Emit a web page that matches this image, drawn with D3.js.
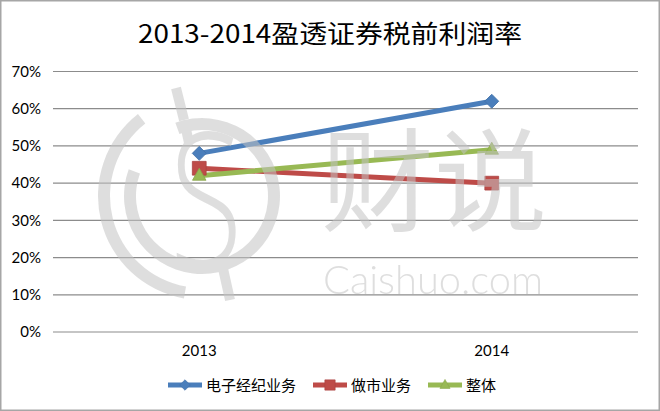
<!DOCTYPE html>
<html><head><meta charset="utf-8">
<script src="https://cdn.jsdelivr.net/npm/d3@7"></script>
<style>body{margin:0;background:#fff}svg{display:block}</style>
</head><body>
<svg id="c" width="660" height="411"></svg>
<script>
const title = "2013-2014盈透证券税前利润率";
const years = ["2013", "2014"];
const seriesNames = ["电子经纪业务", "做市业务", "整体"];
const electronic = [0.48, 0.62];
const marketMaking = [0.44, 0.40];
const overall = [0.42, 0.49];
const yTicks = [0, 0.1, 0.2, 0.3, 0.4, 0.5, 0.6, 0.7];

const colors = ["#4a7ebb", "#be4b48", "#98b954"];
const values = [electronic, marketMaking, overall];

const svg = d3.select("#c");
const W = 660, H = 411;
const plotL = 53, plotR = 638, plotT = 71.5, plotB = 332;

function marker(sel, s, scale) {
  if (s === 0) {
    sel.attr("d", d3.symbol(d3.symbolSquare, 98 * scale * scale)()).attr("data-rot", 45);
  } else if (s === 1) {
    sel.attr("d", d3.symbol(d3.symbolSquare, 190 * scale * scale)());
  } else {
    const h = 12 * scale, w = 13.5 * scale;
    sel.attr("d", `M0,${-h * 0.62}L${w / 2},${h * 0.38}L${-w / 2},${h * 0.38}Z`);
  }
}

svg.append("rect").attr("x", 0.75).attr("y", 0.75).attr("width", W - 1.5).attr("height", H - 1.5)
  .attr("fill", "#fff").attr("stroke", "#a6a6a6").attr("stroke-width", 1.5);

svg.append("text").attr("x", 330).attr("y", 43).attr("text-anchor", "middle")
  .attr("font-family", "'Noto Sans CJK SC', sans-serif").attr("font-size", 25)
  .attr("textLength", 384).attr("lengthAdjust", "spacingAndGlyphs")
  .attr("fill", "#000").text(title);

const x = d3.scaleBand().domain(years).range([plotL, plotR]);
const y = d3.scaleLinear().domain([0, 0.7]).range([plotB, plotT]);

// gridlines
svg.append("g").selectAll("line").data(yTicks).join("line")
  .attr("x1", plotL).attr("x2", plotR)
  .attr("y1", d => y(d)).attr("y2", d => y(d))
  .attr("stroke", "#8c8c8c").attr("stroke-width", 1.2);

// y axis labels
const yAxis = svg.append("g").attr("transform", `translate(${plotL},0)`)
  .call(d3.axisLeft(y).tickValues(yTicks).tickFormat(d3.format(".0%")).tickSize(0).tickPadding(12));
yAxis.select(".domain").remove();
yAxis.selectAll("text").attr("font-family", "Lato, 'Open Sans', sans-serif").attr("font-size", 15).attr("fill", "#000");

// x axis labels
const xAxis = svg.append("g").attr("transform", `translate(0,${plotB})`)
  .call(d3.axisBottom(x).tickSize(0).tickPadding(13));
xAxis.select(".domain").remove();
xAxis.selectAll("text").attr("font-family", "Lato, 'Open Sans', sans-serif").attr("font-size", 15).attr("fill", "#000");

// lines
const cx = i => x(years[i]) + x.bandwidth() / 2;
const line = d3.line().x((d, i) => cx(i)).y(d => y(d));
values.forEach((vals, s) => {
  svg.append("path").datum(vals).attr("d", line).attr("fill", "none")
    .attr("stroke", colors[s]).attr("stroke-width", 5).attr("stroke-linecap", "round");
});
values.forEach((vals, s) => {
  svg.append("g").selectAll("path").data(vals).join("path")
    .call(marker, s, 1)
    .attr("transform", (d, i) => `translate(${cx(i)},${y(d)})` + (s === 0 ? " rotate(45)" : ""))
    .attr("fill", colors[s]).attr("stroke", d3.color(colors[s]).darker(0.3)).attr("stroke-width", 0.8);
});

// watermark
const wmC = "#c4c4c4";
const wm = svg.append("g").attr("opacity", 0.55).attr("fill", "none").attr("stroke", wmC).attr("stroke-linecap", "butt");
const arc = d3.arc();
const deg = Math.PI / 180;
wm.append("path").attr("transform", "translate(202,196)")
  .attr("d", arc({innerRadius: 92, outerRadius: 104, startAngle: 190 * deg, endAngle: 322 * deg}))
  .attr("fill", wmC).attr("stroke", "none");
wm.append("path").attr("transform", "translate(202,196)")
  .attr("d", arc({innerRadius: 66, outerRadius: 78, startAngle: -20 * deg, endAngle: 290 * deg}))
  .attr("fill", wmC).attr("stroke", "none");
wm.append("line").attr("x1", 176).attr("y1", 88).attr("x2", 184).attr("y2", 120).attr("stroke-width", 10);
wm.append("line").attr("x1", 186).attr("y1", 129).attr("x2", 189).attr("y2", 143).attr("stroke-width", 10);
wm.append("line").attr("x1", 222).attr("y1", 264).attr("x2", 230).attr("y2", 300).attr("stroke-width", 10);
wm.append("text").attr("transform", "translate(206,266) scale(0.72,1)").attr("text-anchor", "middle")
  .attr("font-family", "'Open Sans', sans-serif").attr("font-weight", 300).attr("font-size", 186)
  .attr("fill", wmC).attr("stroke", "none").text("S");
wm.append("text").attr("x", 434).attr("y", 223).attr("text-anchor", "middle")
  .attr("font-family", "'Noto Sans CJK SC', sans-serif").attr("font-weight", 400).attr("font-size", 112)
  .attr("textLength", 226).attr("lengthAdjust", "spacingAndGlyphs")
  .attr("fill", wmC).attr("stroke", "none").text("财说");
wm.append("text").attr("x", 323).attr("y", 294)
  .attr("font-family", "Lato, 'Open Sans', sans-serif").attr("font-weight", 300).attr("font-size", 39)
  .attr("textLength", 220).attr("lengthAdjust", "spacingAndGlyphs")
  .attr("fill", wmC).attr("stroke", "none").text("Caishuo.com");

// legend
const legendX = [168, 313, 428];
const lg = svg.append("g");
seriesNames.forEach((name, s) => {
  const g = lg.append("g").attr("transform", `translate(${legendX[s]},385)`);
  g.append("line").attr("x1", 0).attr("x2", 34).attr("stroke", colors[s]).attr("stroke-width", 5);
  g.append("path").call(marker, s, 0.75)
    .attr("transform", "translate(17,0)" + (s === 0 ? " rotate(45)" : ""))
    .attr("fill", colors[s]).attr("stroke", d3.color(colors[s]).darker(0.3)).attr("stroke-width", 0.6);
  g.append("text").attr("x", 38).attr("y", 5.5).attr("font-family", "'Noto Sans CJK SC', sans-serif")
    .attr("font-size", 15).attr("fill", "#000").text(name);
});
</script>
</body></html>
